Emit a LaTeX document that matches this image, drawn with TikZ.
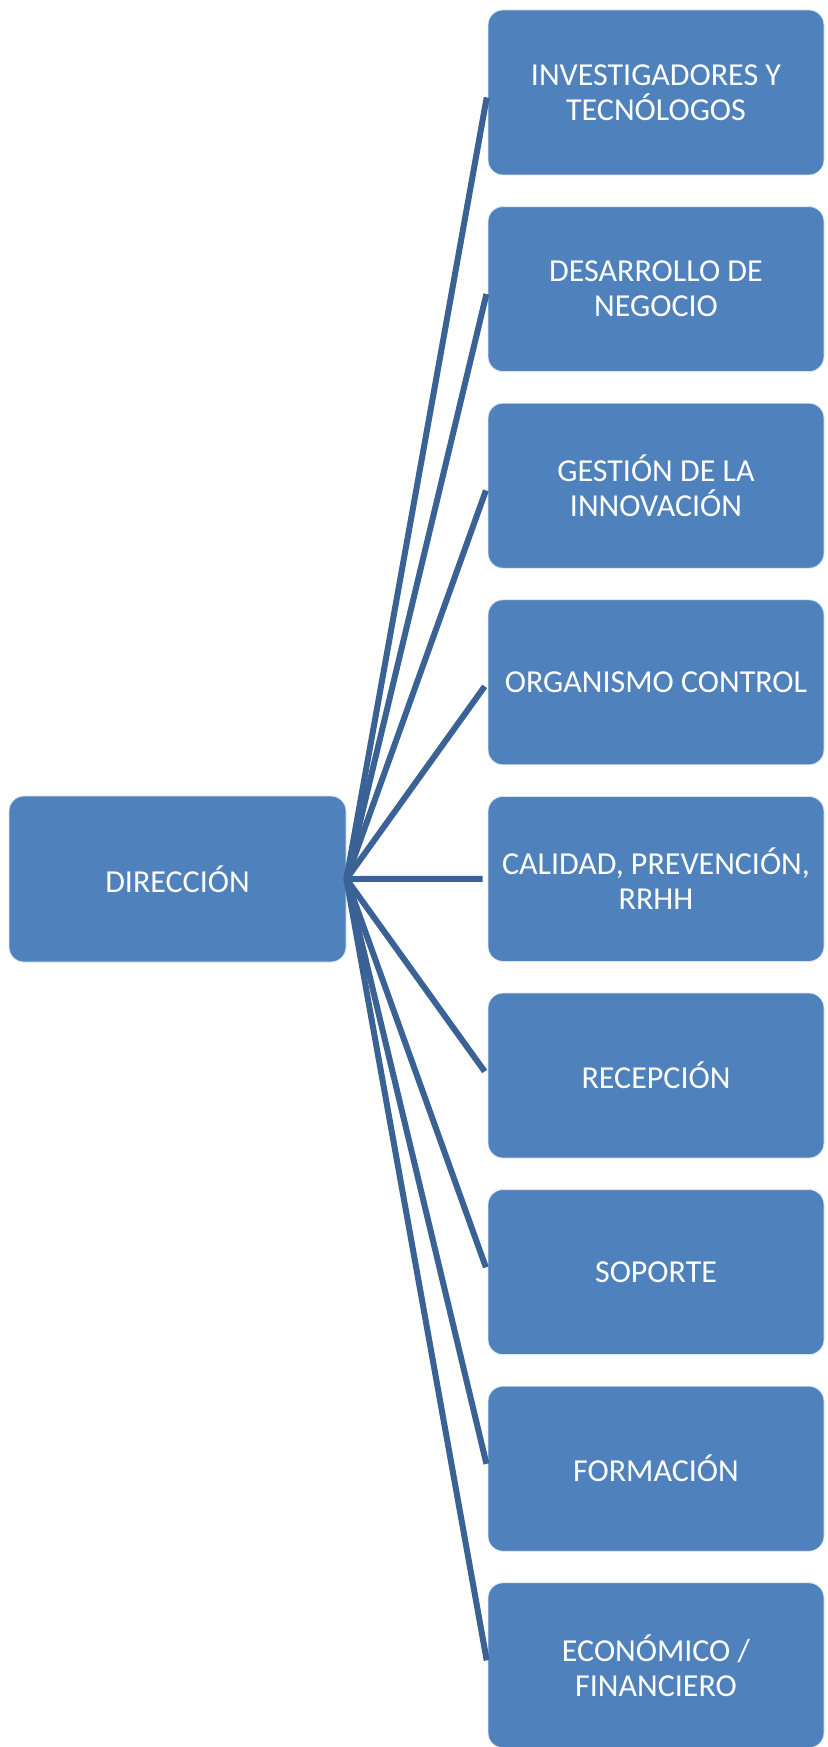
\documentclass[tikz,border=0pt]{standalone}
\usepackage{fontspec}
\setmainfont{Carlito}
\definecolor{boxblue}{HTML}{4F81BD}
\definecolor{linkblue}{HTML}{3A6294}
\begin{document}
\begin{tikzpicture}[x=1pt,y=-1pt,
  unit/.style={rectangle, rounded corners=15pt, fill=boxblue, draw=white!80!boxblue, line width=0.8pt,
    minimum width=336pt, minimum height=165pt, text=white, align=center,
    font=\fontsize{32}{35}\selectfont, inner sep=0pt},
  link/.style={draw=linkblue, line width=6pt, shorten >=5pt}]
  \useasboundingbox (0,0) rectangle (827,1747);
  % head unit
  \node[unit, minimum width=337pt, minimum height=166pt] (dir) at (177.5,879) {DIRECCIÓN};
  % departments, top to bottom
  \node[unit] (b1) at (656,92.5) {INVESTIGADORES Y\\TECNÓLOGOS};
  \node[unit] (b2) at (656,289.1) {DESARROLLO DE\\NEGOCIO};
  \node[unit] (b3) at (656,485.7) {GESTIÓN DE LA\\INNOVACIÓN};
  \node[unit] (b4) at (656,682.3) {ORGANISMO CONTROL};
  \node[unit] (b5) at (656,878.9) {CALIDAD, PREVENCIÓN,\\RRHH};
  \node[unit] (b6) at (656,1075.5) {RECEPCIÓN};
  \node[unit] (b7) at (656,1272.1) {SOPORTE};
  \node[unit] (b8) at (656,1468.7) {FORMACIÓN};
  \node[unit] (b9) at (656,1665.3) {ECONÓMICO /\\FINANCIERO};
  % connectors fanning out from the head unit
  \foreach \n in {b1,b2,b3,b4,b5,b6,b7,b8,b9}
    \draw[link] (dir.east) -- (\n.west);
\end{tikzpicture}
\end{document}
